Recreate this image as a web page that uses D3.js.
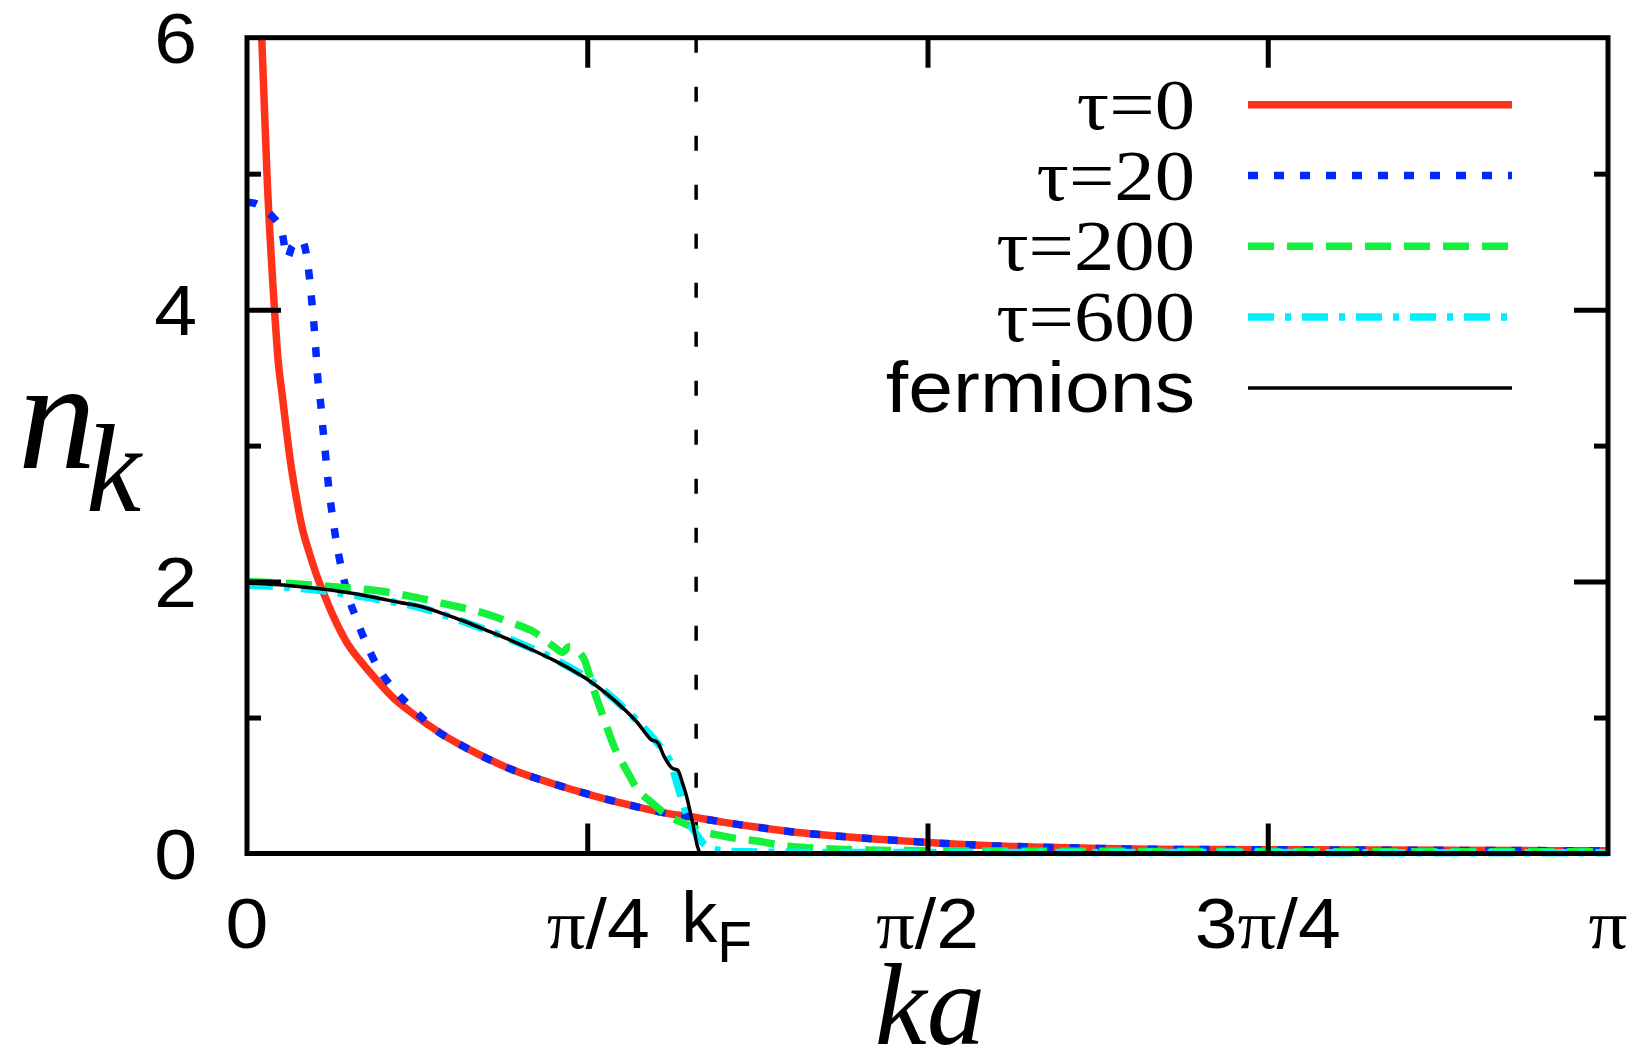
<!DOCTYPE html>
<html>
<head>
<meta charset="utf-8">
<script src="https://cdn.jsdelivr.net/npm/d3@7"></script>
<style>
  html, body { margin: 0; padding: 0; background: #fff; }
  svg { display: block; }
</style>
</head>
<body>
<svg id="chart" width="1636" height="1056"></svg>
<script>
// ---- axis ticks ----
const xTickValues = [0, Math.PI / 4, Math.PI / 2, 3 * Math.PI / 4, Math.PI];
const xTickLabels = ["0", "π/4", "π/2", "3π/4", "π"];
const yMajorTicks = [0, 2, 4, 6];
const yMinorTicks = [1, 3, 5];
const kFermi = 0.33 * Math.PI;

// ---- momentum distributions n_k versus ka ----
const tau0 = [
  [0.034, 6.00], [0.046, 5.00], [0.0635, 4.00], [0.072, 3.62], [0.081, 3.38],
  [0.090, 3.14], [0.100, 2.89], [0.112, 2.65], [0.127, 2.40], [0.144, 2.21],
  [0.162, 2.035], [0.177, 1.913], [0.200, 1.74], [0.227, 1.57], [0.266, 1.40],
  [0.304, 1.26], [0.335, 1.153], [0.378, 1.04], [0.449, 0.88], [0.528, 0.74],
  [0.617, 0.61], [0.705, 0.515], [0.794, 0.43], [0.882, 0.357], [0.970, 0.295],
  [1.025, 0.270], [1.102, 0.229], [1.179, 0.193], [1.256, 0.160], [1.333, 0.136],
  [1.410, 0.116], [1.487, 0.099], [1.564, 0.082], [1.641, 0.068], [1.719, 0.057],
  [1.796, 0.050], [1.950, 0.038], [2.089, 0.031], [2.436, 0.027], [2.783, 0.023],
  [3.1416, 0.020]
];

const tau20 = [
  [0.000, 4.79], [0.020, 4.78], [0.038, 4.74], [0.057, 4.69], [0.080, 4.58],
  [0.093, 4.38], [0.105, 4.47], [0.126, 4.51], [0.1415, 4.31], [0.148, 4.11],
  [0.154, 3.91], [0.159, 3.70], [0.163, 3.51], [0.170, 3.31], [0.176, 3.10],
  [0.182, 2.91], [0.188, 2.71], [0.196, 2.51], [0.2056, 2.305], [0.217, 2.11],
  [0.233, 1.90], [0.252, 1.73], [0.275, 1.545], [0.304, 1.36], [0.341, 1.20],
  [0.386, 1.055], [0.431, 0.92], [0.484, 0.815], [0.528, 0.74], [0.617, 0.61],
  [0.705, 0.515], [0.794, 0.43], [0.882, 0.357], [0.970, 0.295], [1.025, 0.270],
  [1.102, 0.229], [1.179, 0.193], [1.256, 0.160], [1.333, 0.136], [1.410, 0.116],
  [1.487, 0.099], [1.564, 0.082], [1.641, 0.068], [1.719, 0.057], [1.796, 0.050],
  [1.950, 0.038], [2.089, 0.031], [2.436, 0.027], [2.783, 0.023], [3.1416, 0.020]
];

const tau200 = [
  [0.000, 2.00], [0.0995, 1.985], [0.227, 1.955], [0.319, 1.925], [0.389, 1.884],
  [0.4696, 1.827], [0.539, 1.775], [0.608, 1.70], [0.662, 1.63], [0.709, 1.52],
  [0.728, 1.48], [0.744, 1.52], [0.760, 1.50], [0.778, 1.43], [0.801, 1.20],
  [0.824, 0.99], [0.847, 0.79], [0.878, 0.60], [0.9015, 0.47], [0.932, 0.38],
  [0.971, 0.28], [1.017, 0.21], [1.048, 0.165], [1.080, 0.14], [1.120, 0.115],
  [1.186, 0.088], [1.228, 0.062], [1.307, 0.040], [1.400, 0.027], [1.580, 0.020],
  [2.000, 0.016], [2.600, 0.013], [3.1416, 0.012]
];

const tau600 = [
  [0.000, 1.975], [0.138, 1.945], [0.292, 1.875], [0.404, 1.805], [0.500, 1.705],
  [0.600, 1.585], [0.709, 1.43], [0.790, 1.28], [0.870, 1.07], [0.930, 0.875],
  [0.960, 0.76], [0.980, 0.65], [0.994, 0.50], [1.010, 0.33], [1.026, 0.20],
  [1.040, 0.13], [1.055, 0.07], [1.070, 0.04], [1.094, 0.022], [1.150, 0.012],
  [1.300, 0.008], [3.1416, 0.006]
];

const fermions = [
  [0.000, 1.99], [0.100, 1.97], [0.173, 1.945], [0.219, 1.925], [0.292, 1.885],
  [0.350, 1.848], [0.404, 1.815], [0.447, 1.77], [0.500, 1.71], [0.5545, 1.64],
  [0.600, 1.58], [0.660, 1.495], [0.709, 1.42], [0.750, 1.35], [0.786, 1.28],
  [0.832, 1.17], [0.871, 1.06], [0.902, 0.96], [0.932, 0.84], [0.948, 0.815],
  [0.963, 0.712], [0.982, 0.626], [0.994, 0.614], [1.0055, 0.516], [1.013, 0.44],
  [1.029, 0.22], [1.040, 0.05], [1.047, 0.0], [3.1416, 0.0]
];

const seriesLabels = ["τ=0", "τ=20", "τ=200", "τ=600", "fermions"];

// ---- styles ----
const series = [
  { label: seriesLabels[0], data: tau0,     color: "#ff3219", width: 7.5, dash: null,         serif: true },
  { label: seriesLabels[1], data: tau20,    color: "#0028ff", width: 7.5, dash: "10,16",      serif: true },
  { label: seriesLabels[2], data: tau200,   color: "#14f03c", width: 7.5, dash: "26,13",      serif: true },
  { label: seriesLabels[3], data: tau600,   color: "#00f0fa", width: 7.5, dash: "26,11,6,11", serif: true },
  { label: seriesLabels[4], data: fermions, color: "#000000", width: 3.5, dash: null,         serif: false }
];

const SANS = "'Liberation Sans', Arial, Helvetica, sans-serif";
const SERIF = "'Liberation Serif', 'Times New Roman', serif";

const svg = d3.select("#chart");
const plotLeft = 247, plotRight = 1608, plotTop = 37.7, plotBottom = 853.5;

const x = d3.scaleLinear().domain([0, Math.PI]).range([plotLeft, plotRight]);
const y = d3.scaleLinear().domain([0, 6]).range([plotBottom, plotTop]);

svg.append("defs").append("clipPath").attr("id", "plotArea")
  .append("rect")
  .attr("x", plotLeft).attr("y", plotTop)
  .attr("width", plotRight - plotLeft).attr("height", plotBottom - plotTop + 10);

// ---- curves ----
const line = d3.line()
  .x(d => x(d[0]))
  .y(d => y(d[1]))
  .curve(d3.curveMonotoneX);

const curves = svg.append("g").attr("clip-path", "url(#plotArea)");

// Fermi momentum marker
curves.append("line")
  .attr("x1", x(kFermi)).attr("x2", x(kFermi))
  .attr("y1", y(6)).attr("y2", y(0))
  .attr("stroke", "#000").attr("stroke-width", 3.5)
  .attr("stroke-dasharray", "15,34");

series.forEach(s => {
  curves.append("path")
    .datum(s.data)
    .attr("d", line)
    .attr("fill", "none")
    .attr("stroke", s.color)
    .attr("stroke-width", s.width)
    .attr("stroke-linejoin", "round")
    .attr("stroke-dasharray", s.dash);
});

// ---- axes: inward ticks on all four sides ----
function styleAxis(g) {
  g.select(".domain").remove();
  g.selectAll(".tick line").attr("stroke", "#000").attr("stroke-width", 5);
  g.selectAll(".tick text").remove();
}
const innerX = xTickValues.slice(1, -1);

svg.append("g").attr("transform", `translate(0,${plotBottom})`)
  .call(d3.axisBottom(x).tickValues(innerX).tickSize(-30).tickFormat(""))
  .call(styleAxis);
svg.append("g").attr("transform", `translate(0,${plotTop})`)
  .call(d3.axisTop(x).tickValues(innerX).tickSize(-30).tickFormat(""))
  .call(styleAxis);
svg.append("g").attr("transform", `translate(${plotLeft},0)`)
  .call(d3.axisLeft(y).tickValues(yMajorTicks.slice(1, -1)).tickSize(-34).tickFormat(""))
  .call(styleAxis);
svg.append("g").attr("transform", `translate(${plotLeft},0)`)
  .call(d3.axisLeft(y).tickValues(yMinorTicks).tickSize(-14).tickFormat(""))
  .call(styleAxis);
svg.append("g").attr("transform", `translate(${plotRight},0)`)
  .call(d3.axisRight(y).tickValues(yMajorTicks.slice(1, -1)).tickSize(-34).tickFormat(""))
  .call(styleAxis);
svg.append("g").attr("transform", `translate(${plotRight},0)`)
  .call(d3.axisRight(y).tickValues(yMinorTicks).tickSize(-14).tickFormat(""))
  .call(styleAxis);

// frame
svg.append("rect")
  .attr("x", plotLeft).attr("y", plotTop)
  .attr("width", plotRight - plotLeft).attr("height", plotBottom - plotTop)
  .attr("fill", "none").attr("stroke", "#000").attr("stroke-width", 5);

// ---- tick labels ----
const TICK_SIZE = 70, STRETCH = 1.1;

// y tick labels
yMajorTicks.forEach(v => {
  svg.append("text")
    .attr("transform", `translate(197,${y(v) + 25}) scale(${STRETCH},1)`)
    .attr("text-anchor", "end")
    .attr("font-family", SANS)
    .attr("font-size", TICK_SIZE)
    .text(String(v));
});

// x tick labels: π set in a serif face, digits and slash in sans
xTickValues.forEach((v, i) => {
  const label = xTickLabels[i];
  const nudge = label === "π/4" ? 11 : 0;   // keep clear of the kF label
  const t = svg.append("text")
    .attr("transform", `translate(${x(v) + nudge},948) scale(${STRETCH},1)`)
    .attr("text-anchor", "middle")
    .attr("font-size", TICK_SIZE);
  Array.from(label).forEach(ch => {
    t.append("tspan")
      .attr("font-family", ch === "π" ? SERIF : SANS)
      .text(ch);
  });
});

// kF label under the dashed marker
const kfText = svg.append("text")
  .attr("x", x(kFermi) - 15).attr("y", 942)
  .attr("font-family", SANS).attr("font-size", 72);
kfText.append("tspan").text("k");
kfText.append("tspan").attr("font-size", 57).attr("dy", 20).text("F");

// ---- axis titles ----
const yTitle = svg.append("text")
  .attr("x", 18).attr("y", 468)
  .attr("font-family", SERIF).attr("font-style", "italic")
  .attr("font-size", 156);
yTitle.append("tspan").text("n");
yTitle.append("tspan").attr("font-size", 124).attr("dx", -10).attr("dy", 43).text("k");

svg.append("text")
  .attr("x", 930).attr("y", 1044)
  .attr("text-anchor", "middle")
  .attr("font-family", SERIF).attr("font-style", "italic")
  .attr("font-size", 117)
  .text("ka");

// ---- legend ----
const LEG_X1 = 1248, LEG_X2 = 1512, LEG_TEXT_X = 1195, LEG_Y0 = 104.7, LEG_DY = 70.8;
series.forEach((s, i) => {
  const ly = LEG_Y0 + i * LEG_DY;
  svg.append("line")
    .attr("x1", LEG_X1).attr("x2", LEG_X2)
    .attr("y1", ly).attr("y2", ly)
    .attr("stroke", s.color)
    .attr("stroke-width", s.width)
    .attr("stroke-dasharray", s.dash);
  svg.append("text")
    .attr("transform", `translate(${LEG_TEXT_X},${ly + 24}) scale(1.12,1)`)
    .attr("text-anchor", "end")
    .attr("font-family", s.serif ? SERIF : SANS)
    .attr("font-size", 72)
    .text(s.label);
});
</script>
</body>
</html>
